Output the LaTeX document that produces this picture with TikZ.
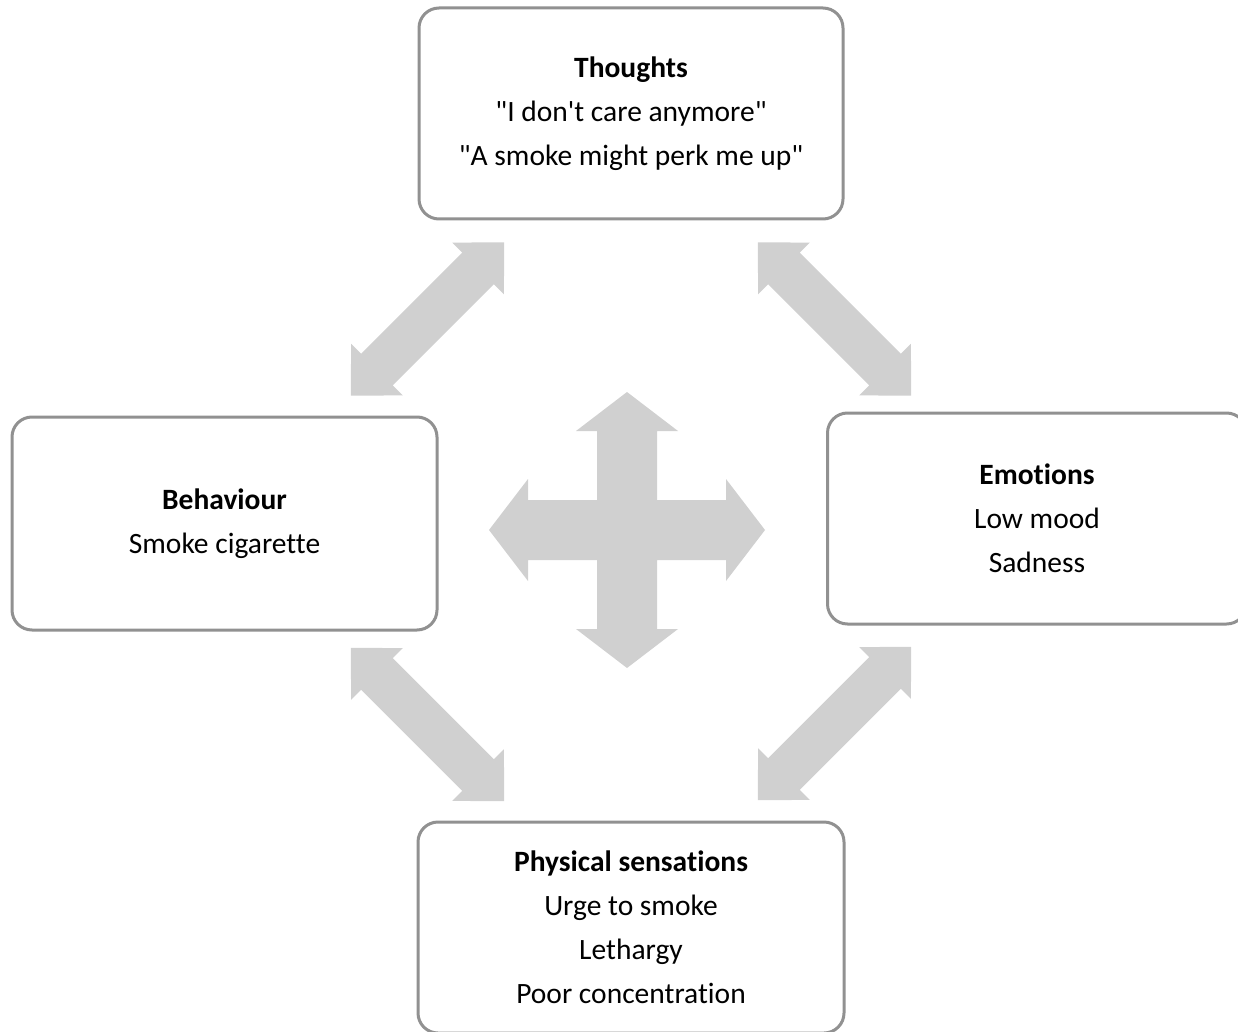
\documentclass[tikz,border=0pt]{standalone}
\usepackage{fontspec}
\setmainfont{Carlito}[Ligatures={NoCommon}]
\definecolor{boxline}{RGB}{145,145,145}
\definecolor{arrfill}{RGB}{208,208,208}
\newcommand{\dq}{\textquotedbl}
\newcommand{\sq}{\textquotesingle}
\tikzset{
  box/.style={draw=boxline, line width=3pt, rounded corners=20pt, fill=white,
    minimum width=#1, minimum height=211pt, inner sep=0pt, align=center,
    font=\fontsize{29.5}{44}\selectfont, text=black},
  box/.default=424pt,
  blockarrow/.style={fill=arrfill, draw=none}
}
\newcommand{\diagarrow}{(108.5,0) -- (71.5,36.5) -- (71.5,22.3) -- (-71.5,22.3) -- (-71.5,36.5) -- (-108.5,0) -- (-71.5,-36.5) -- (-71.5,-22.3) -- (71.5,-22.3) -- (71.5,-36.5) -- cycle}
\begin{document}
\begin{tikzpicture}[x=1pt,y=-1pt]
\useasboundingbox (0,0) rectangle (1238,1032);
\clip (0,0) rectangle (1238,1032);
% boxes
\node[box] (thoughts) at (631,113.5) {\textbf{Thoughts}\\\dq I don\sq t care anymore\dq\\\dq A smoke might perk me up\dq};
\node[box=425pt, minimum height=213pt] (behaviour) at (224.5,523.5) {\textbf{Behaviour}\\Smoke cigarette};
\node[box=419pt] (emotions) at (1037,518.5) {\textbf{Emotions}\\Low mood\\Sadness};
\node[box=426pt] (physical) at (631,927.5) {\textbf{Physical sensations}\\Urge to smoke\\Lethargy\\Poor concentration};
% diagonal double arrows
\coordinate (arrTL) at (427.5,319);
\coordinate (arrTR) at (834.5,319);
\coordinate (arrBL) at (427.5,724.5);
\coordinate (arrBR) at (834.5,723.5);
\begin{scope}[shift={(arrTL)}, rotate=45]
  \fill[blockarrow] \diagarrow;
\end{scope}
\begin{scope}[shift={(arrTR)}, rotate=-45]
  \fill[blockarrow] \diagarrow;
\end{scope}
\begin{scope}[shift={(arrBL)}, rotate=-45]
  \fill[blockarrow] \diagarrow;
\end{scope}
\begin{scope}[shift={(arrBR)}, rotate=45]
  \fill[blockarrow] \diagarrow;
\end{scope}
% central four-way arrow
\coordinate (cross) at (627,530);
\begin{scope}[shift={(cross)}]
  \fill[blockarrow] (138,0) -- (99,51) -- (99,30) -- (30,30) -- (30,99) -- (51,99) -- (0,138) -- (-51,99) -- (-30,99) -- (-30,30) -- (-99,30) -- (-99,51) -- (-138,0) -- (-99,-51) -- (-99,-30) -- (-30,-30) -- (-30,-99) -- (-51,-99) -- (0,-138) -- (51,-99) -- (30,-99) -- (30,-30) -- (99,-30) -- (99,-51) -- cycle;
\end{scope}
\end{tikzpicture}
\end{document}
